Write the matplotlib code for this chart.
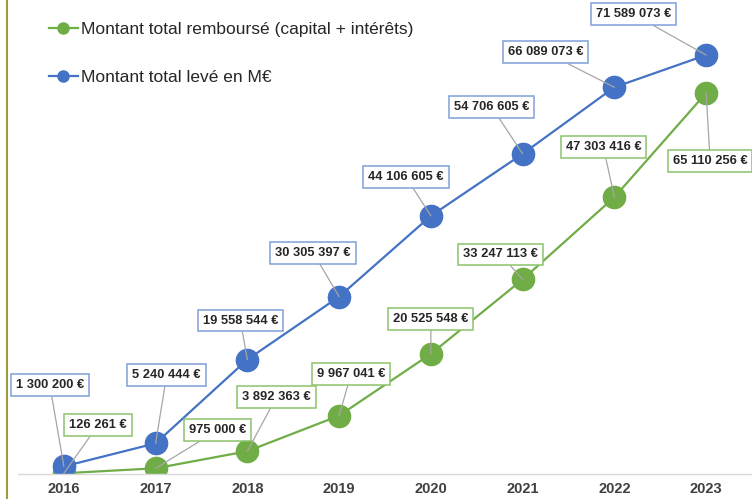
import numpy as np
import matplotlib.pyplot as plt
from matplotlib.lines import Line2D

years = ['2016', '2017', '2018', '2019', '2020', '2021', '2022', '2023']
rembourse = [126261, 975000, 3892363, 9967041, 20525548, 33247113, 47303416, 65110256]
leve = [1300200, 5240444, 19558544, 30305397, 44106605, 54706605, 66089073, 71589073]

# label offsets in pixels (dx, dy) from each point
off_leve = [(-14, 81), (11, 68), (-7, 39), (-26, 44), (-25, 39), (-31, 47), (-69, 35), (-73, 41)]
off_remb = [(34, 48), (62, 38), (29, 54), (12, 42), (0, 35), (-22, 25), (-11, 50), (4, -68)]

BLUE = '#4472C4'
GREEN = '#70AD47'
plt.rcParams['font.family'] = ['Liberation Sans', 'DejaVu Sans']


def fmt(v):
    return f'{v:,}'.replace(',', ' ') + ' €'


fig = plt.figure(figsize=(7.52, 4.99), dpi=100)
ax = fig.add_axes([18 / 752, 25 / 499, 1 - 18 / 752, 1 - 25 / 499])
x = np.arange(len(years))

ax.plot(x, rembourse, color=GREEN, lw=1.6, marker='o', ms=16, zorder=2)
ax.plot(x, leve, color=BLUE, lw=1.6, marker='o', ms=16, zorder=2)

for vals, offs, col in [(rembourse, off_remb, '#8CC36A'), (leve, off_leve, '#7F9FD8')]:
    for i, v in enumerate(vals):
        ax.annotate(fmt(v), xy=(i, v), xytext=offs[i], textcoords='offset pixels',
                    ha='center', va='center', fontsize=9.3, fontweight='bold',
                    color='#262626',
                    bbox=dict(boxstyle='square,pad=0.38', fc='white', ec=col, lw=1.1),
                    arrowprops=dict(arrowstyle='-', color='#A6A6A6', lw=0.9,
                                    shrinkA=0, shrinkB=0),
                    zorder=4)

ax.set_xlim(-0.5, 7.5)
ax.set_ylim(0, 81e6)
ax.set_yticks([])
ax.set_xticks(x)
ax.set_xticklabels(years, fontsize=10.5, fontweight='bold', color='#404040')
ax.tick_params(axis='x', length=0, pad=6)
for s in ['top', 'right', 'left']:
    ax.spines[s].set_visible(False)
ax.spines['bottom'].set_color('#D9D9D9')
ax.spines['bottom'].set_linewidth(1.0)

handles = [Line2D([], [], color=GREEN, lw=1.6, marker='o', ms=8),
           Line2D([], [], color=BLUE, lw=1.6, marker='o', ms=8)]
fig.legend(handles, ['Montant total remboursé (capital + intérêts)', 'Montant total levé en M€'],
           loc='upper left', bbox_to_anchor=(33 / 752, 1 - 6 / 499), frameon=False,
           fontsize=12.5, labelspacing=1.9, handlelength=1.7, handletextpad=0.15,
           labelcolor='#262626')

fig.add_artist(Line2D([6.5 / 752, 6.5 / 752], [0, 1], color='#9C9C3C', lw=1.5))

fig.savefig('out.png', dpi=100)
